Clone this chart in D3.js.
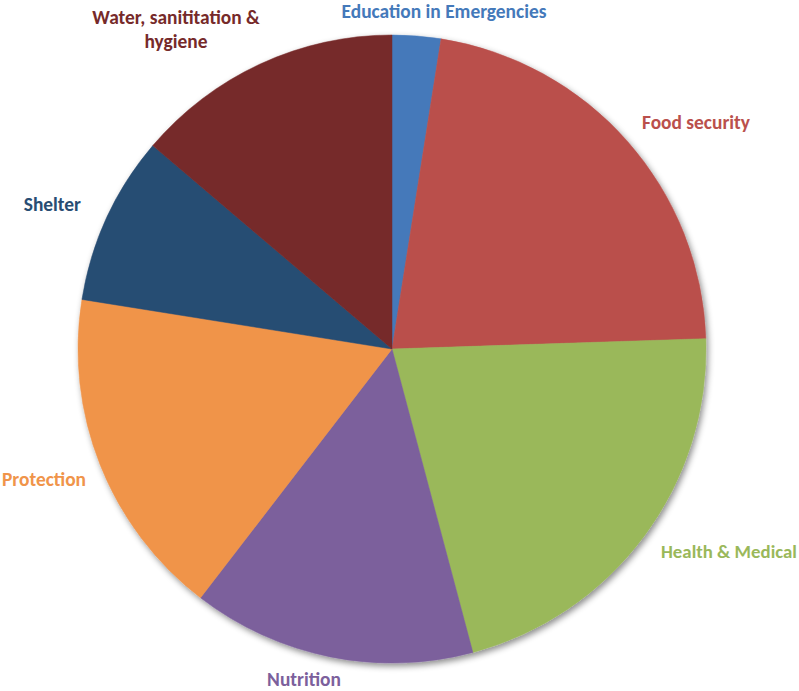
<!DOCTYPE html>
<html>
<head>
<meta charset="utf-8">
<script src="https://cdn.jsdelivr.net/npm/d3@7"></script>
<style>
  html, body { margin: 0; padding: 0; background: #ffffff; overflow: hidden; }
  svg { display: block; }
</style>
</head>
<body>
<svg id="chart" width="799" height="691"></svg>
<script>
// ---- data ----
const categories = ["Education in Emergencies", "Food security", "Health & Medical", "Nutrition", "Protection", "Shelter", "Water, sanititation & hygiene"];
const values = [2.5, 22.0, 21.4, 14.6, 17.1, 8.7, 13.8];
const colors = ["#4479BA", "#BA504C", "#9AB85A", "#7C609C", "#F0944A", "#284D73", "#762A2A"];

// ---- layout ----
const W = 799, H = 691;
const cx = 392, cy = 349, R = 314;
const svg = d3.select("#chart");

const defs = svg.append("defs");
const f = defs.append("filter").attr("id", "shadow").attr("x", "-10%").attr("y", "-10%").attr("width", "120%").attr("height", "120%");
f.append("feDropShadow").attr("dx", 2).attr("dy", 3).attr("stdDeviation", 3).attr("flood-color", "#000").attr("flood-opacity", 0.45);

const data = categories.map((c, i) => ({ name: c, value: values[i], color: colors[i] }));
const pie = d3.pie().value(d => d.value).sort(null);
const arc = d3.arc().innerRadius(0).outerRadius(R);

const g = svg.append("g").attr("transform", `translate(${cx},${cy})`);
const slices = g.append("g").attr("filter", "url(#shadow)");
slices.selectAll("path")
  .data(pie(data))
  .join("path")
  .attr("d", arc)
  .attr("fill", d => d.data.color)
  .attr("stroke", d => d.data.color)
  .attr("stroke-width", 0.5);

// ---- labels (placement) ----
const FONT = "Carlito, Calibri, Lato, 'Open Sans', sans-serif";
const labelPlace = [
  { lines: ["Education in Emergencies"], x: 444, y: 18, anchor: "middle" },
  { lines: ["Food security"], x: 642, y: 129, anchor: "start" },
  { lines: ["Health & Medical"], x: 661, y: 558, anchor: "start", maxW: 136 },
  { lines: ["Nutrition"], x: 304, y: 686, anchor: "middle" },
  { lines: ["Protection"], x: 86, y: 486, anchor: "end" },
  { lines: ["Shelter"], x: 81, y: 211, anchor: "end" },
  { lines: ["Water, sanititation &", "hygiene"], x: 176, y: 24, anchor: "middle" }
];

// scale font so "Food security" is about 108px wide
const probe = svg.append("text").attr("font-family", FONT).attr("font-weight", "bold").attr("font-size", 100).text("Food security");
const fs = 100 * 108 / probe.node().getComputedTextLength();
probe.remove();

const labels = svg.append("g");
labelPlace.forEach((p, i) => {
  const t = labels.append("text")
    .attr("x", p.x).attr("y", p.y)
    .attr("text-anchor", p.anchor)
    .attr("font-family", FONT)
    .attr("font-weight", "bold")
    .attr("font-size", fs)
    .attr("fill", data[i].color);
  p.lines.forEach((ln, k) => {
    t.append("tspan").attr("x", p.x).attr("dy", k === 0 ? 0 : 23.5).text(ln);
  });
  if (p.maxW) {
    const w = t.node().getComputedTextLength();
    if (w > p.maxW) t.attr("font-size", fs * p.maxW / w);
  }
});
</script>
</body>
</html>
